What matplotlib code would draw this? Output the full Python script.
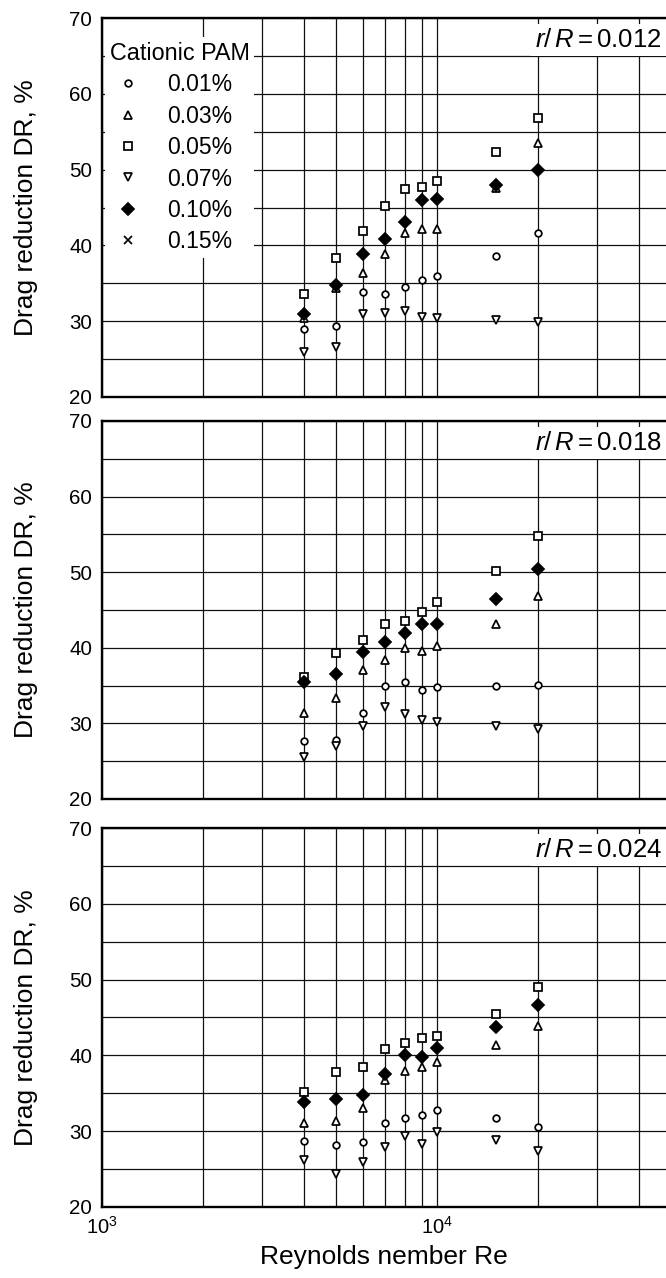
import matplotlib
matplotlib.use('Agg')
import matplotlib.pyplot as plt
from matplotlib.ticker import FixedLocator, NullFormatter, FixedFormatter

plt.rcParams['font.family'] = ['Liberation Sans', 'DejaVu Sans']
plt.rcParams['mathtext.fontset'] = 'custom'
plt.rcParams['mathtext.rm'] = 'Liberation Sans'
plt.rcParams['mathtext.it'] = 'Liberation Sans:italic'
plt.rcParams['mathtext.bf'] = 'Liberation Sans:bold'

# ---------------- data ----------------
reynolds = [4000, 5000, 6000, 7000, 8000, 9000, 10000, 15000, 20000]
concentrations = ['0.01%', '0.03%', '0.05%', '0.07%', '0.10%', '0.15%']
ratios = ['0.012', '0.018', '0.024']

# r/R = 0.012
dr_012_c001 = [29.0, 29.4, 33.8, 33.6, 34.5, 35.5, 35.9, 38.6, 41.6]
dr_012_c003 = [30.4, 34.4, 36.4, 38.9, 41.6, 42.2, 42.2, 47.6, 53.5]
dr_012_c005 = [33.6, 38.3, 41.9, 45.2, 47.5, 47.7, 48.5, 52.3, 56.8]
dr_012_c007 = [25.9, 26.6, 30.9, 31.1, 31.4, 30.6, 30.4, 30.1, 29.9]
dr_012_c010 = [30.9, 34.8, 38.8, 40.9, 43.1, 46.0, 46.1, 48.0, 50.0]
dr_012_c015 = []

# r/R = 0.018
dr_018_c001 = [27.7, 27.8, 31.4, 35.0, 35.5, 34.4, 34.8, 35.0, 35.1]
dr_018_c003 = [31.4, 33.3, 37.1, 38.4, 40.0, 39.6, 40.2, 43.2, 46.8]
dr_018_c005 = [36.1, 39.3, 41.0, 43.2, 43.5, 44.8, 46.0, 50.1, 54.8]
dr_018_c007 = [25.6, 27.0, 29.6, 32.2, 31.2, 30.5, 30.2, 29.7, 29.2]
dr_018_c010 = [35.5, 36.5, 39.4, 40.8, 41.9, 43.2, 43.2, 46.5, 50.4]
dr_018_c015 = []

# r/R = 0.024
dr_024_c001 = [28.7, 28.2, 28.6, 31.1, 31.7, 32.1, 32.8, 31.7, 30.6]
dr_024_c003 = [31.1, 31.3, 33.1, 36.7, 37.9, 38.5, 39.1, 41.4, 43.9]
dr_024_c005 = [35.2, 37.8, 38.5, 40.8, 41.6, 42.3, 42.5, 45.5, 49.0]
dr_024_c007 = [26.2, 24.3, 25.9, 27.9, 29.4, 28.3, 29.9, 28.8, 27.4]
dr_024_c010 = [33.9, 34.2, 34.8, 37.5, 40.1, 39.8, 41.0, 43.7, 46.6]
dr_024_c015 = []

panels = [
    [dr_012_c001, dr_012_c003, dr_012_c005, dr_012_c007, dr_012_c010, dr_012_c015],
    [dr_018_c001, dr_018_c003, dr_018_c005, dr_018_c007, dr_018_c010, dr_018_c015],
    [dr_024_c001, dr_024_c003, dr_024_c005, dr_024_c007, dr_024_c010, dr_024_c015],
]

# ---------------- styles ----------------
styles = [
    dict(marker='o', ms=4.8, mfc='white'),
    dict(marker='^', ms=6.2, mfc='white'),
    dict(marker='s', ms=5.6, mfc='white'),
    dict(marker='v', ms=6.2, mfc='white'),
    dict(marker='D', ms=5.8, mfc='black'),
    dict(marker='x', ms=5.2, mfc='black'),
]

W, H = 666, 1278
left_px = 102
decade_px = 335
panels_px = [(18, 397), (421, 799), (828, 1207)]
xmax = 10 ** (3 + (W - left_px) / decade_px)

fig = plt.figure(figsize=(W / 100, H / 100), dpi=100)

for i, (top, bot) in enumerate(panels_px):
    ax = fig.add_axes([left_px / W, 1 - bot / H, (W - left_px) / W, (bot - top) / H])
    ax.set_xscale('log')
    ax.set_xlim(1000, xmax)
    ax.set_ylim(20, 70)

    ax.xaxis.set_major_locator(FixedLocator([1000, 10000]))
    ax.xaxis.set_minor_locator(FixedLocator([2000, 3000, 4000, 5000, 6000, 7000, 8000, 9000,
                                             20000, 30000, 40000]))
    ax.xaxis.set_minor_formatter(NullFormatter())
    if i == 2:
        ax.xaxis.set_major_formatter(FixedFormatter([r'$10^3$', r'$10^4$']))
    else:
        ax.xaxis.set_major_formatter(NullFormatter())
    ax.yaxis.set_major_locator(FixedLocator([20, 30, 40, 50, 60, 70]))
    ax.yaxis.set_minor_locator(FixedLocator([25, 35, 45, 55, 65]))
    ax.yaxis.set_minor_formatter(NullFormatter())

    ax.tick_params(which='both', length=0)
    ax.tick_params(axis='y', labelsize=14.8, pad=7)
    ax.tick_params(axis='x', labelsize=14.5, pad=6.5)

    ax.set_axisbelow(True)
    ax.grid(True, which='both', axis='both', color='#111111', linewidth=0.9)

    for side in ['left', 'top', 'bottom']:
        ax.spines[side].set_linewidth(1.7)
        ax.spines[side].set_zorder(5)
    ax.spines['right'].set_visible(False)

    series = panels[i]
    handles = []
    for vals, st, lab in zip(series, styles, concentrations):
        xs = reynolds[:len(vals)]
        h, = ax.plot(xs, vals, linestyle='none', marker=st['marker'], markersize=st['ms'],
                     markerfacecolor=st['mfc'], markeredgecolor='black',
                     markeredgewidth=1.25, label=lab, zorder=3, clip_on=False)
        handles.append(h)

    ax.set_ylabel('Drag reduction DR, %', fontsize=19)
    ax.yaxis.set_label_coords((38 - left_px) / (W - left_px), 0.5)

    ax.text(0.993, 1 - 22 / (bot - top), r'$r/\,R{=}$' + ratios[i],
            transform=ax.transAxes, ha='right', va='center', fontsize=18.5,
            bbox=dict(facecolor='white', edgecolor='none', pad=3), zorder=6)

    if i == 0:
        leg = ax.legend(handles=handles, title='Cationic PAM', loc='upper left',
                        bbox_to_anchor=(3 / (W - left_px), 1 - 19 / (bot - top)),
                        borderaxespad=0,
                        fontsize=16.5, title_fontsize=16.8, handlelength=1.6,
                        handletextpad=0.9, labelspacing=0.37, borderpad=0.2,
                        alignment='left', fancybox=False, framealpha=1)
        leg.get_frame().set_edgecolor('none')
        leg.get_frame().set_facecolor('white')
        leg.set_zorder(6)

    if i == 2:
        ax.set_xlabel('Reynolds nember Re', fontsize=19, labelpad=5)

fig.savefig('out.png', dpi=100)
